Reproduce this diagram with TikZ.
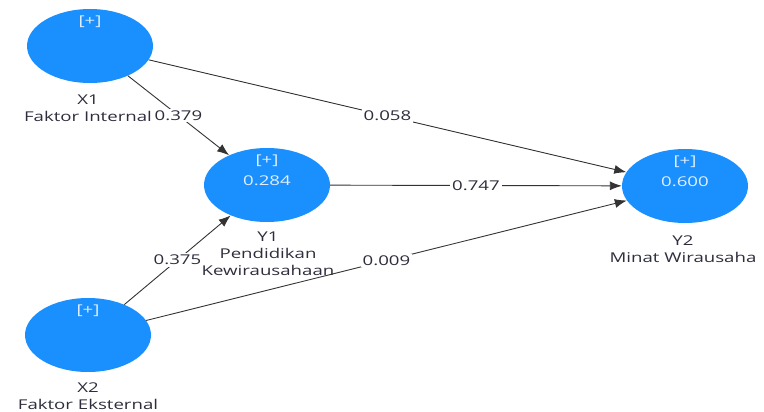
\documentclass[tikz,border=0pt]{standalone}
\usepackage{fontspec}
\setmainfont{Open Sans}
\newfontfamily\plsfont[FakeStretch=1.38]{Open Sans}
\usepackage{tikz}
\usetikzlibrary{arrows}
\usetikzlibrary{arrows.meta}
\usetikzlibrary{shapes.geometric}
\definecolor{lvblue}{RGB}{26,144,255}
\definecolor{lvtext}{RGB}{225,238,255}
\definecolor{lbltext}{RGB}{45,45,60}
\tikzset{>=latex}
\tikzstyle{latent} = [ellipse, fill=lvblue, draw=none, minimum width=126, minimum height=74, inner sep=0]
\tikzstyle{lvin} = [draw=none, inner sep=0, text=lvtext, font=\plsfont\fontsize{13.5}{15}\selectfont]
\tikzstyle{lvname} = [draw=none, inner sep=0, align=center, text=lbltext, font=\plsfont\fontsize{13.5}{17}\selectfont]
\tikzstyle{lvpath} = [-{Latex[length=12, width=9]}, draw=black!80, line width=0.9pt]
\tikzstyle{coef} = [pos=0.5, fill=white, inner sep=2, text=lbltext, font=\plsfont\fontsize{13.5}{15}\selectfont]

\begin{document}
\begin{tikzpicture}[x=1pt, y=-1pt]
\useasboundingbox (0, 0) rectangle (764, 412);
\node [latent] (X1) at (90, 46) {};
\node [latent] (Y1) at (267, 185) {};
\node [latent] (Y2) at (685, 186) {};
\node [latent] (X2) at (88, 335) {};
\node [lvin] (X1p) at (90, 22) {[+]};
\node [lvin] (Y1p) at (267, 161) {[+]};
\node [lvin] (Y1r) at (267, 181) {0.284};
\node [lvin] (Y2p) at (685, 162) {[+]};
\node [lvin] (Y2r) at (685, 182) {0.600};
\node [lvin] (X2p) at (88, 311) {[+]};
\node [lvname] (X1n) at (88, 108) {X1\\Faktor Internal};
\node [lvname] (Y1n) at (268, 254) {Y1\\Pendidikan\\Kewirausahaan};
\node [lvname] (Y2n) at (683, 249) {Y2\\Minat Wirausaha};
\node [lvname] (X2n) at (88, 396) {X2\\Faktor Eksternal};
\draw [lvpath] (X1) to node[coef] {0.379} (Y1);
\draw [lvpath] (X1) to node[coef] {0.058} (Y2);
\draw [lvpath] (Y1) to node[coef] {0.747} (Y2);
\draw [lvpath] (X2) to node[coef] {0.375} (Y1);
\draw [lvpath] (X2) to node[coef] {0.009} (Y2);
\end{tikzpicture}
\end{document}
